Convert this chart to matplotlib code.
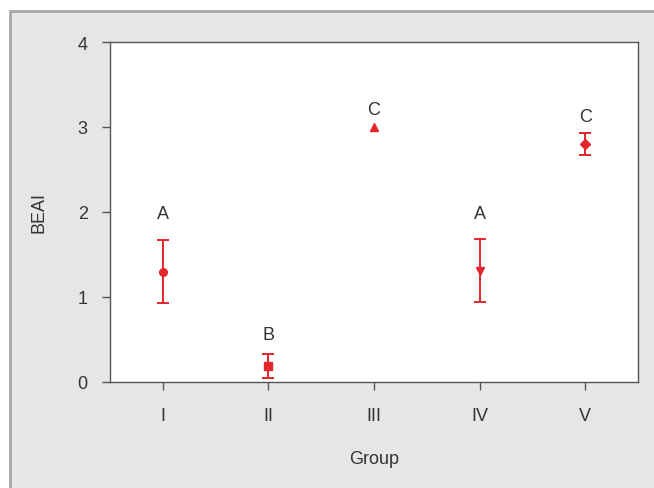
import matplotlib.pyplot as plt
from matplotlib.patches import Rectangle

plt.rcParams['font.family'] = ['Liberation Sans', 'DejaVu Sans']

groups = ['I', 'II', 'III', 'IV', 'V']
beai = [1.30, 0.19, 3.00, 1.31, 2.80]
err = [0.37, 0.14, 0.0, 0.37, 0.13]
markers = ['o', 's', '^', 'v', 'D']
letters = ['A', 'B', 'C', 'A', 'C']
letter_y = [1.98, 0.56, 3.21, 1.98, 3.12]

RED = '#e3262b'
TXT = '#333333'


def main():
    fig = plt.figure(figsize=(6.54, 4.89), dpi=100)
    fig.patch.set_facecolor('white')
    fig.patches.append(Rectangle((10 / 654, -0.01), 1, 1 - 12 / 489 + 0.01,
                                 transform=fig.transFigure,
                                 facecolor='#e6e6e6', edgecolor='#a8a8a8',
                                 linewidth=2, zorder=-10))

    ax = fig.add_axes([110 / 654, 1 - 383 / 489, 528 / 654, 340 / 489])
    ax.set_facecolor('white')
    x = range(1, len(groups) + 1)
    for xi, yi, ei, m in zip(x, beai, err, markers):
        ax.errorbar(xi, yi, yerr=ei if ei > 0 else None, fmt=m, color=RED,
                    ecolor=RED, markersize=5.5, elinewidth=1.4,
                    capsize=4, capthick=1.4)
    for xi, lab, ly in zip(x, letters, letter_y):
        ax.text(xi, ly, lab, ha='center', va='center', fontsize=13, color=TXT)

    ax.set_xlim(0.5, 5.5)
    ax.set_ylim(0, 4)
    ax.set_xticks(list(x))
    ax.set_xticklabels(groups)
    ax.set_yticks([0, 1, 2, 3, 4])
    ax.tick_params(direction='out', length=6, width=1, color='#555555',
                   labelsize=13, labelcolor=TXT)
    ax.tick_params(axis='x', pad=12)
    ax.tick_params(axis='y', pad=10)
    for s in ax.spines.values():
        s.set_color('#555555')
        s.set_linewidth(1)
    ax.set_xlabel('Group', fontsize=13, color=TXT, labelpad=19)
    ax.set_ylabel('BEAI', fontsize=13, color=TXT, labelpad=22)

    fig.savefig('out.png', dpi=100, facecolor=fig.get_facecolor())


if __name__ == '__main__':
    main()
